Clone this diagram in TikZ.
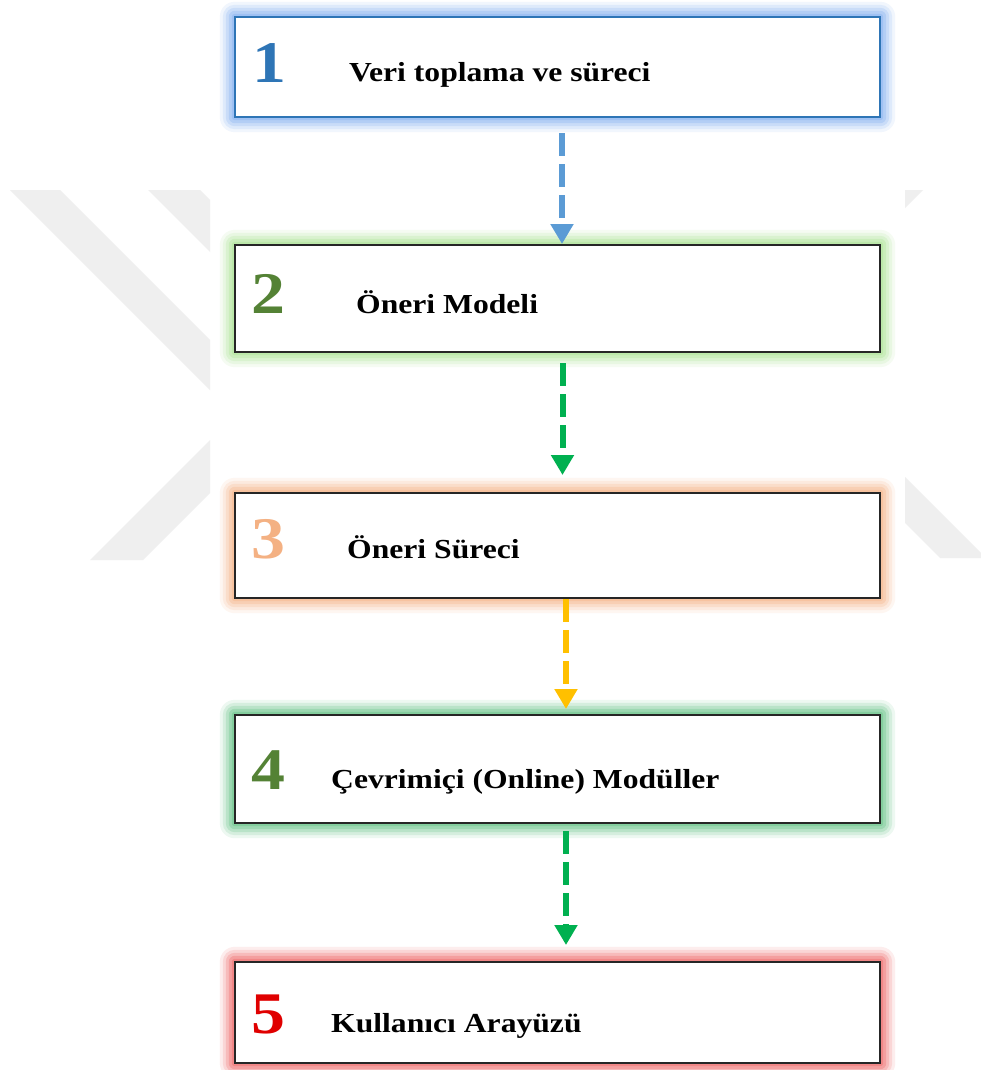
\documentclass[tikz,border=0pt]{standalone}
\usepackage{fontspec}
\setmainfont{Liberation Serif}[FakeStretch=1.15]
\usetikzlibrary{arrows.meta}
\definecolor{wmgray}{HTML}{EFEFEF}
\definecolor{nblue}{HTML}{2E75B6}
\definecolor{ngreen}{HTML}{548235}
\definecolor{norange}{HTML}{F4B183}
\definecolor{nred}{HTML}{E00000}
\definecolor{gblue}{HTML}{8DB6F2}
\definecolor{glgreen}{HTML}{B0E59A}
\definecolor{gorange}{HTML}{F7B88E}
\definecolor{ggreen}{HTML}{6CC68C}
\definecolor{gred}{HTML}{EF7070}
\definecolor{bdark}{HTML}{262626}
\definecolor{ablue}{HTML}{5B9BD5}
\definecolor{agreen}{HTML}{00B050}
\definecolor{ayellow}{HTML}{FFC000}
\tikzset{
  stepbox/.style={draw=#1, line width=2pt, fill=white, minimum width=645pt, inner sep=0pt},
  numtxt/.style={anchor=base west, inner sep=0pt, font=\fontsize{59}{60}\selectfont\bfseries},
  lbltxt/.style={anchor=base west, inner sep=0pt, font=\fontsize{27.5}{30}\selectfont\bfseries},
  flow/.style={line width=6pt, dash pattern=on 23pt off 8pt, -{Triangle[width=22pt,length=20pt]}},
  wm/.style={fill=wmgray},
}
\newcommand{\glowaround}[2]{%
  \foreach \r/\o in {15/0.12,12/0.18,9/0.26,6/0.36,3/0.5}{%
    \fill[#2, opacity=\o, rounded corners=\r pt]
      ([shift={(-\r,\r)}]#1.south west) rectangle ([shift={(\r,-\r)}]#1.north east);
  }%
}
\begin{document}
\begin{tikzpicture}[x=1pt,y=-1pt]
\useasboundingbox (0,0) rectangle (981,1070);
\fill[white] (0,0) rectangle (981,1070);
% watermark
\fill[wm] (10,190) -- (60,190) -- (210,340) -- (210,390) -- cycle;
\fill[wm] (148,190) -- (200,190) -- (210,200) -- (210,252) -- cycle;
\fill[wm] (90,560) -- (143,560) -- (210,493) -- (210,440) -- cycle;
\fill[wm] (905,190) -- (923,190) -- (905,208) -- cycle;
\fill[wm] (905,477) -- (981,553) -- (981,558) -- (940,558) -- (905,523) -- cycle;
% boxes (positions)
\path (557.5,67) node[minimum width=645pt, minimum height=100pt, inner sep=0pt] (b1) {};
\path (557.5,298.5) node[minimum width=645pt, minimum height=107pt, inner sep=0pt] (b2) {};
\path (557.5,545.5) node[minimum width=645pt, minimum height=105pt, inner sep=0pt] (b3) {};
\path (557.5,769) node[minimum width=645pt, minimum height=108pt, inner sep=0pt] (b4) {};
\path (557.5,1012.5) node[minimum width=645pt, minimum height=101pt, inner sep=0pt] (b5) {};
\glowaround{b1}{gblue}
\glowaround{b2}{glgreen}
\glowaround{b3}{gorange}
\glowaround{b4}{ggreen}
\glowaround{b5}{gred}
\node[stepbox=nblue, minimum height=100pt] (box1) at (b1) {};
\node[stepbox=bdark, minimum height=107pt] (box2) at (b2) {};
\node[stepbox=bdark, minimum height=105pt] (box3) at (b3) {};
\node[stepbox=bdark, minimum height=108pt] (box4) at (b4) {};
\node[stepbox=bdark, minimum height=101pt] (box5) at (b5) {};
% texts
\node[numtxt, text=nblue] (n1) at (252,83) {1};
\node[lbltxt] (t1) at (349,82) {Veri toplama ve süreci};
\node[numtxt, text=ngreen] (n2) at (251,313) {2};
\node[lbltxt] (t2) at (356,313) {Öneri Modeli};
\node[numtxt, text=norange] (n3) at (251,558) {3};
\node[lbltxt] (t3) at (347,558) {Öneri Süreci};
\node[numtxt, text=ngreen] (n4) at (251,789) {4};
\node[lbltxt] (t4) at (331,788) {Çevrimiçi (Online) Modüller};
\node[numtxt, text=nred] (n5) at (251,1033) {5};
\node[lbltxt] (t5) at (331,1032) {Kullanıcı Arayüzü};
% connectors
\draw[flow, ablue] ([xshift=4.5pt,yshift=-15pt]box1.south) -- ([xshift=4.5pt]box2.north);
\draw[flow, agreen] ([xshift=5pt,yshift=-10pt]box2.south) -- ([xshift=5pt,yshift=17pt]box3.north);
\draw[flow, ayellow] ([xshift=8.5pt]box3.south) -- ([xshift=8.5pt,yshift=5pt]box4.north);
\draw[flow, agreen] ([xshift=8.5pt,yshift=-7pt]box4.south) -- ([xshift=8.5pt,yshift=16pt]box5.north);
\end{tikzpicture}
\end{document}
